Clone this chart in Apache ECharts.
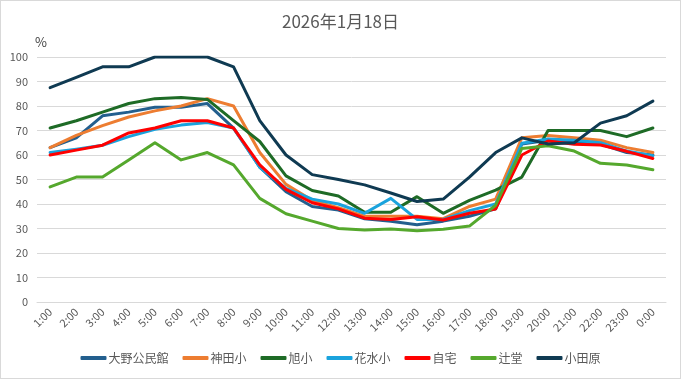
<!DOCTYPE html>
<html>
<head>
<meta charset="utf-8">
<script src="https://cdn.jsdelivr.net/npm/echarts@6/dist/echarts.min.js"></script>
<style>
html,body{margin:0;padding:0;background:#fff;}
#frame{width:681px;height:379px;box-sizing:border-box;border:1px solid #d9d9d9;position:relative;}
#chart{position:absolute;left:-1px;top:-1px;width:681px;height:379px;}
</style>
</head>
<body>
<div id="frame"><div id="chart"></div></div>
<script>
const titleText = '2026年1月18日';
const categories = ['1:00','2:00','3:00','4:00','5:00','6:00','7:00','8:00','9:00','10:00','11:00','12:00','13:00','14:00','15:00','16:00','17:00','18:00','19:00','20:00','21:00','22:00','23:00','0:00'];
const seriesNames = ['大野公民館','神田小','旭小','花水小','自宅','辻堂','小田原'];
const oono    = [63,67,76,77.5,79.5,79.5,81,71,55,45,39,37.5,34,33,31.5,33,35,38,64.5,66,65.5,64.5,61,60];
const kanda   = [63,68,72,75.5,78,80,83,80,61,48,41.5,38.5,35,35,35,34,39,42,67,68,67,66,63,61];
const asahi   = [71,74,77.5,81,83,83.5,82.7,74,65.5,51.5,45.5,43.3,36.6,36.6,43,36.2,41.5,45.7,51,70,70,70,67.5,71];
const hanamizu= [61,62.4,64,67.5,70.5,72.2,73.3,71,55,46.4,42,40,36.2,42.3,33.7,33.7,37.3,40,64.8,66.5,66,65,61.6,59.7];
const jitaku  = [60,62,64,69,71,74,74,71,56,46,40.5,38,34.2,33.7,34.8,33.5,36.2,38,60,65.7,64.4,64.1,61.5,58.6];
const tsujido = [47,51,51,58,65,58,61,56,42.3,36,33,30,29.4,29.8,29.1,29.7,31,39.5,62.7,63.8,61.6,56.6,55.9,54];
const odawara = [87.5,91.7,96,96,100,100,100,96,74,60,52,50,47.8,44.5,41,42,51,61,67,64.5,65,73,76,82];
const seriesData = [oono,kanda,asahi,hanamizu,jitaku,tsujido,odawara];
const colors = ['#235F8E','#ED7D31','#1E6B26','#1AA3DD','#FF0000','#55A82D','#0F3A52'];

const font = '"Noto Sans CJK JP","Noto Sans",sans-serif';
const chart = echarts.init(document.getElementById('chart'), null, {renderer:'canvas'});
chart.setOption({
  animation:false,
  color: colors,
  title:{text:titleText,left:'center',top:8,textStyle:{fontFamily:font,fontSize:17,fontWeight:'normal',color:'#595959'}},
  grid:{left:37,right:15,top:57,bottom:77,containLabel:false},
  legend:{
    data: seriesNames, bottom:10, left:'center', icon:'roundRect', itemWidth:26, itemHeight:4, itemGap:14,
    textStyle:{fontFamily:font,fontSize:12,color:'#595959',padding:[0,0,0,-3]}
  },
  xAxis:{
    type:'category', data:categories, boundaryGap:true,
    axisLine:{lineStyle:{color:'#d9d9d9'}}, axisTick:{show:false},
    axisLabel:{rotate:45,interval:0,fontFamily:font,fontSize:11,color:'#595959',margin:8}
  },
  yAxis:{
    type:'value', min:0, max:100, interval:10, name:'%',
    nameLocation:'end', nameGap:8, nameTextStyle:{fontFamily:font,fontSize:13,color:'#404040',align:'left',padding:[0,0,0,-2]},
    axisLine:{show:false}, axisTick:{show:false},
    axisLabel:{fontFamily:font,fontSize:11,color:'#595959',margin:9},
    splitLine:{lineStyle:{color:'#d9d9d9',width:1}}
  },
  series: seriesNames.map((n,i)=>({
    name:n, type:'line', data:seriesData[i], showSymbol:false, symbol:'none',
    lineStyle:{width:3,color:colors[i],join:'round',cap:'round'}, itemStyle:{color:colors[i]}
  }))
});
</script>
</body>
</html>
